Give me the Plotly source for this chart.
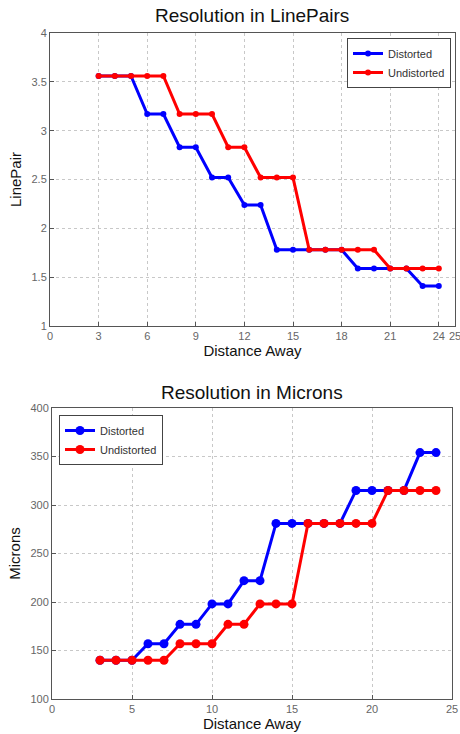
import plotly.graph_objects as go

distance = list(range(3, 25))
lp_distorted = [3.56, 3.56, 3.56, 3.17, 3.17, 2.83, 2.83, 2.52, 2.52, 2.24, 2.24,
                1.78, 1.78, 1.78, 1.78, 1.78, 1.59, 1.59, 1.59, 1.59, 1.41, 1.41]
lp_undistorted = [3.56, 3.56, 3.56, 3.56, 3.56, 3.17, 3.17, 3.17, 2.83, 2.83, 2.52,
                  2.52, 2.52, 1.78, 1.78, 1.78, 1.78, 1.78, 1.59, 1.59, 1.59, 1.59]
mic_distorted = [140, 140, 140, 157, 157, 177, 177, 198, 198, 222, 222,
                 281, 281, 281, 281, 281, 315, 315, 315, 315, 354, 354]
mic_undistorted = [140, 140, 140, 140, 140, 157, 157, 157, 177, 177, 198,
                   198, 198, 281, 281, 281, 281, 281, 315, 315, 315, 315]

top_xticks = [0, 3, 6, 9, 12, 15, 18, 21, 24, 25]
top_yticks = [1, 1.5, 2, 2.5, 3, 3.5, 4]
bot_xticks = [0, 5, 10, 15, 20, 25]
bot_yticks = [100, 150, 200, 250, 300, 350, 400]

W, H = 460, 734
FONT = "Liberation Sans, Arial, sans-serif"
BLUE = "#0000ff"
RED = "#ff0000"

fig = go.Figure()
fig.add_trace(go.Scatter(x=distance, y=lp_distorted, name="Distorted", mode="lines+markers",
                         line=dict(color=BLUE, width=3), marker=dict(size=6, color=BLUE),
                         xaxis="x", yaxis="y", legend="legend"))
fig.add_trace(go.Scatter(x=distance, y=lp_undistorted, name="Undistorted", mode="lines+markers",
                         line=dict(color=RED, width=3), marker=dict(size=6, color=RED),
                         xaxis="x", yaxis="y", legend="legend"))
fig.add_trace(go.Scatter(x=distance, y=mic_distorted, name="Distorted", mode="lines+markers",
                         line=dict(color=BLUE, width=3), marker=dict(size=9, color=BLUE),
                         xaxis="x2", yaxis="y2", legend="legend2"))
fig.add_trace(go.Scatter(x=distance, y=mic_undistorted, name="Undistorted", mode="lines+markers",
                         line=dict(color=RED, width=3), marker=dict(size=9, color=RED),
                         xaxis="x2", yaxis="y2", legend="legend2"))

def px_x(p):
    return p / W

def px_y(p):
    return 1 - p / H

axis_common = dict(showline=True, mirror=True, linecolor="#555", linewidth=1,
                   ticks="inside", ticklen=4, tickcolor="#555", automargin=False,
                   ticklabeloverflow="allow",
                   showgrid=True, gridcolor="#c8c8c8", griddash="dot", gridwidth=1,
                   zeroline=False, tickfont=dict(family=FONT, size=11, color="#666"))

fig.update_layout(
    width=W, height=H,
    margin=dict(l=0, r=0, t=0, b=0),
    paper_bgcolor="white", plot_bgcolor="white",
    font=dict(family=FONT, color="#111"),
    xaxis=dict(domain=[px_x(50), px_x(455)], range=[0, 25], tickvals=top_xticks,
               anchor="y", title=dict(text="Distance Away", font=dict(size=15, color="#111"), standoff=2),
               **axis_common),
    yaxis=dict(domain=[px_y(326), px_y(33)], range=[1, 4], tickvals=top_yticks,
               anchor="x", title=dict(text="LinePair", font=dict(size=15, color="#111"), standoff=6),
               **axis_common),
    xaxis2=dict(domain=[px_x(52), px_x(452)], range=[0, 25], tickvals=bot_xticks,
                anchor="y2", title=dict(text="Distance Away", font=dict(size=15, color="#111"), standoff=2),
                **axis_common),
    yaxis2=dict(domain=[px_y(699), px_y(408)], range=[100, 400], tickvals=bot_yticks,
                anchor="x2", title=dict(text="Microns", font=dict(size=15, color="#111"), standoff=6),
                **axis_common),
    legend=dict(x=px_x(451), y=px_y(38), xanchor="right", yanchor="top",
                bgcolor="white", bordercolor="#444", borderwidth=1,
                font=dict(family=FONT, size=11, color="#333"), tracegroupgap=0,
                itemwidth=30),
    legend2=dict(x=px_x(59), y=px_y(415), xanchor="left", yanchor="top",
                 bgcolor="white", bordercolor="#444", borderwidth=1,
                 font=dict(family=FONT, size=11, color="#333"), tracegroupgap=0,
                 itemwidth=30),
    showlegend=True,
    annotations=[
        dict(text="Resolution in LinePairs", x=px_x(252), y=px_y(16), xref="paper", yref="paper",
             showarrow=False, xanchor="center", yanchor="middle",
             font=dict(family=FONT, size=19, color="#111")),
        dict(text="Resolution in Microns", x=px_x(252), y=px_y(392), xref="paper", yref="paper",
             showarrow=False, xanchor="center", yanchor="middle",
             font=dict(family=FONT, size=19, color="#111")),
    ],
)

fig.write_html("out.html", config={"displayModeBar": False},
               post_script="document.body.style.margin='0';document.body.style.overflow='hidden';")
